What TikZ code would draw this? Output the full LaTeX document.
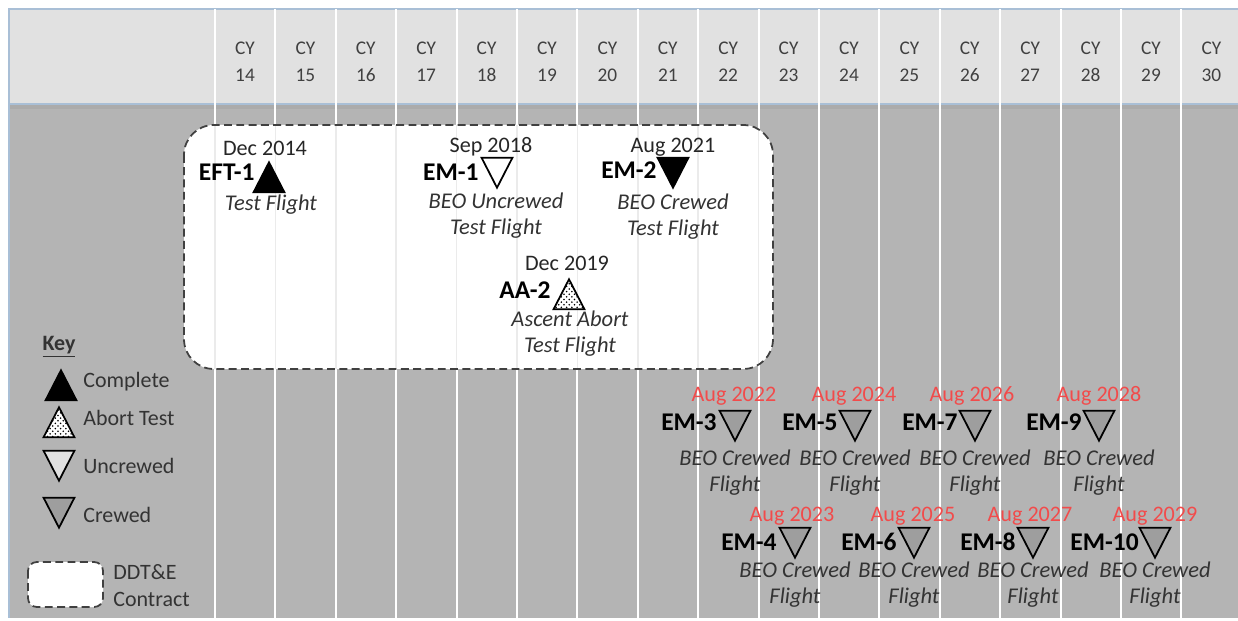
\documentclass[tikz,border=0pt]{standalone}
\usepackage{fontspec}
\setmainfont{Carlito}
\usetikzlibrary{shapes.geometric,patterns}
\definecolor{headgray}{HTML}{E1E1E1}
\definecolor{bodygray}{HTML}{B4B4B4}
\definecolor{edgeblue}{HTML}{A9BFD6}
\definecolor{datered}{HTML}{F24B4B}
\begin{document}
\begin{tikzpicture}[x=0.02cm, y=-0.02cm,
  txt/.style={inner sep=0, text height=0.64em, text depth=0pt},
  cy/.style={inner sep=0, align=center, text=black!75, font=\fontsize{11}{15.3}\selectfont},
  date/.style={txt, text=black!85, font=\fontsize{12.6}{14}\selectfont},
  reddate/.style={date, text=datered},
  msname/.style={txt, anchor=east, font=\fontsize{14.5}{16}\selectfont\bfseries},
  desc/.style={inner sep=0, align=center, text=black!80, font=\fontsize{12.8}{14.8}\selectfont\itshape},
  keytxt/.style={txt, anchor=west, text=black!80, font=\fontsize{12.5}{15}\selectfont},
  keytwo/.style={inner sep=0, anchor=west, align=left, text=black!80, font=\fontsize{12.5}{15.3}\selectfont},
  tri/.style={isosceles triangle, isosceles triangle stretches, minimum width=17.5pt, minimum height=17pt, inner sep=0, draw=black, line width=1pt, anchor=apex},
  complete/.style={tri, shape border rotate=90, fill=black},
  abort/.style={tri, shape border rotate=90, preaction={fill=white}, pattern=crosshatch dots},
  uncrewed/.style={tri, shape border rotate=-90, fill=white, fill opacity=0.6},
  crewed/.style={tri, shape border rotate=-90, fill=black!38},
  flown/.style={tri, shape border rotate=-90, fill=black},
  dashedge/.style={draw=black!75, dash pattern=on 4.5pt off 2.5pt, line width=1pt}]
  \useasboundingbox (0,0) rectangle (1238,621);

  \fill[bodygray] (9,104) rectangle (1238,618);
  \fill[black!33] (9,104) rectangle (1238,109);
  \fill[headgray] (9,9) rectangle (1238,104);
  \draw[edgeblue, line width=1pt] (1238,9) -- (9,9) -- (9,618);
  \draw[edgeblue, line width=1pt] (9,104) -- (1238,104);
  \foreach \i in {0,...,16}
    \draw[white, line width=1.2pt] ({215+60.4*\i},9) -- ({215+60.4*\i},618);
  \foreach \yr [count=\i from 0] in {14,...,30}
    \node[cy] (cy\yr) at ({245+60.4*\i},61.5) {CY\\\yr};

  \fill[white, rounded corners=17pt] (184,125) rectangle (773,369);
  \begin{scope}
    \clip[rounded corners=17pt] (184,125) rectangle (773,369);
    \foreach \i in {0,...,9}
      \draw[black!8, line width=1pt] ({215+60.4*\i},125) -- ++(0,244);
  \end{scope}
  \draw[dashedge, rounded corners=17pt] (184,125) rectangle (773,369);

  \node[complete] (eft) at (269,160) {};
  \node[date] (eftdate) at (265,150) {Dec 2014};
  \node[msname] (eftname) at (255,175) {EFT-1};
  \node[desc] (eftdesc) at (271,205) {Test Flight};

  \node[uncrewed] (em1) at (497,190) {};
  \node[date] (em1date) at (491,147) {Sep 2018};
  \node[msname] (em1name) at (479,175) {EM-1};
  \node[desc] (em1desc) at (496,215.5) {BEO Uncrewed\\Test Flight};

  \node[flown] (em2) at (673,190) {};
  \node[date] (em2date) at (673,147) {Aug 2021};
  \node[msname] (em2name) at (657,173) {EM-2};
  \node[desc] (em2desc) at (673,217) {BEO Crewed\\Test Flight};

  \node[abort] (aa2) at (569,277) {};
  \node[date] (aa2date) at (567,265) {Dec 2019};
  \node[msname] (aa2name) at (551,293) {AA-2};
  \node[desc] (aa2desc) at (570,334) {Ascent Abort\\Test Flight};

  \node[crewed] (em3) at (735,443) {};
  \node[reddate] (em3date) at (734,396) {Aug 2022};
  \node[msname] (em3name) at (717,425) {EM-3};
  \node[desc] (em3desc) at (735,473) {BEO Crewed\\Flight};

  \node[crewed] (em5) at (855,443) {};
  \node[reddate] (em5date) at (854,396) {Aug 2024};
  \node[msname] (em5name) at (838,425) {EM-5};
  \node[desc] (em5desc) at (855,473) {BEO Crewed\\Flight};

  \node[crewed] (em7) at (975,443) {};
  \node[reddate] (em7date) at (972,396) {Aug 2026};
  \node[msname] (em7name) at (958,425) {EM-7};
  \node[desc] (em7desc) at (975,473) {BEO Crewed\\Flight};

  \node[crewed] (em9) at (1099,443) {};
  \node[reddate] (em9date) at (1099,396) {Aug 2028};
  \node[msname] (em9name) at (1082,425) {EM-9};
  \node[desc] (em9desc) at (1099,473) {BEO Crewed\\Flight};

  \node[crewed] (em4) at (795,560) {};
  \node[reddate] (em4date) at (792,516) {Aug 2023};
  \node[msname] (em4name) at (777,545) {EM-4};
  \node[desc] (em4desc) at (795,584.5) {BEO Crewed\\Flight};

  \node[crewed] (em6) at (914,560) {};
  \node[reddate] (em6date) at (913,516) {Aug 2025};
  \node[msname] (em6name) at (897,545) {EM-6};
  \node[desc] (em6desc) at (914,584.5) {BEO Crewed\\Flight};

  \node[crewed] (em8) at (1033,560) {};
  \node[reddate] (em8date) at (1030,516) {Aug 2027};
  \node[msname] (em8name) at (1016,545) {EM-8};
  \node[desc] (em8desc) at (1033,584.5) {BEO Crewed\\Flight};

  \node[crewed] (em10) at (1155,560) {};
  \node[reddate] (em10date) at (1155,516) {Aug 2029};
  \node[msname] (em10name) at (1139,545) {EM-10};
  \node[desc] (em10desc) at (1155,584.5) {BEO Crewed\\Flight};

  \node[txt, font=\fontsize{12.5}{15}\selectfont\bfseries, text=black!80] (key) at (59,345) {\underline{Key}};
  \node[complete] (kcomplete) at (61,368) {};
  \node[keytxt] (kcompletetxt) at (83,382) {Complete};
  \node[abort] (kabort) at (59,405) {};
  \node[keytxt] (kaborttxt) at (83,420) {Abort Test};
  \node[uncrewed] (kuncrewed) at (59,483) {};
  \node[keytxt] (kuncrewedtxt) at (83,468) {Uncrewed};
  \node[crewed] (kcrewed) at (59,530) {};
  \node[keytxt] (kcrewedtxt) at (83,517) {Crewed};
  \draw[dashedge, fill=white, rounded corners=5pt] (28,562) rectangle (103,607);
  \node[keytwo] (kcontract) at (113,586) {DDT\&E\\Contract};
\end{tikzpicture}
\end{document}
